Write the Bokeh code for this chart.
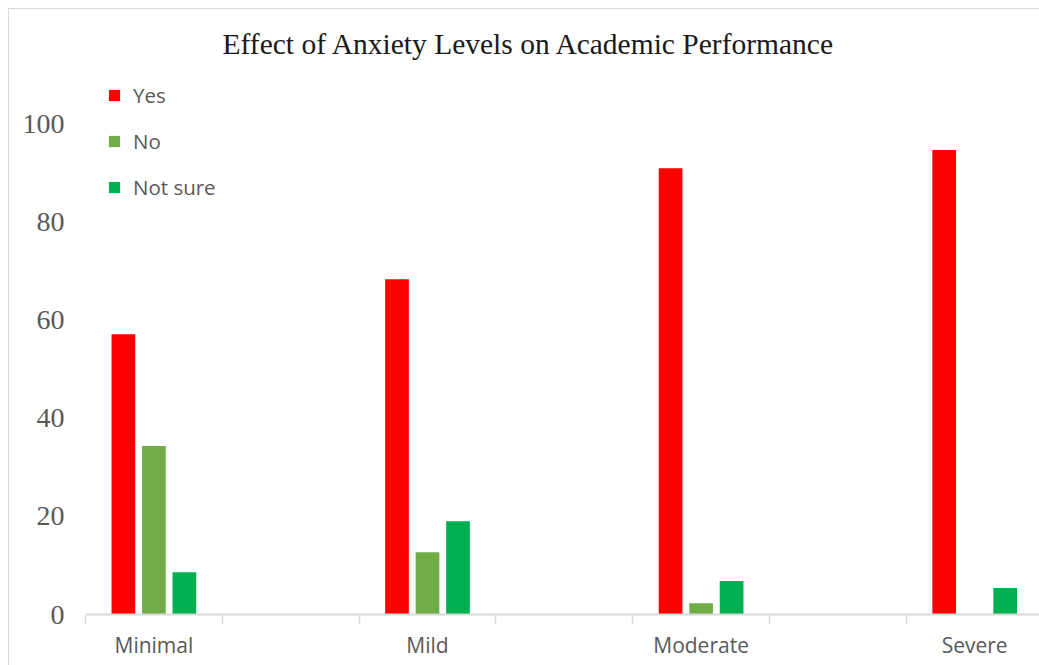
from bokeh.plotting import figure
from bokeh.models import Range1d, FixedTicker, Legend, LegendItem, ColumnDataSource
from bokeh.transform import dodge
from bokeh.embed import file_html
from bokeh.resources import INLINE

# ---- data ----
categories = ["Minimal", "Mild", "Moderate", "Severe"]
series_names = ["Yes", "No", "Not sure"]
yes_vals = [57.1, 68.3, 90.9, 94.6]
no_vals = [34.3, 12.7, 2.3, 0.0]
notsure_vals = [8.6, 19.0, 6.8, 5.4]
y_ticks = [0, 20, 40, 60, 80, 100]
colors = ["#FF0000", "#70AD47", "#00B050"]

# category slots: each category occupies one slot, with an empty slot between
centers = [2 * i + 0.5 for i in range(len(categories))]
boundaries = list(range(0, 2 * len(categories)))

src = ColumnDataSource(dict(x=centers, yes=yes_vals, no=no_vals, ns=notsure_vals))

SLOT_PX = 136.8
FRAME_W = 955
FRAME_H = 555
PX_PER_UNIT = 4.91
p = figure(width=1031, height=657,
           x_range=Range1d(0, FRAME_W / SLOT_PX), y_range=Range1d(0, FRAME_H / PX_PER_UNIT),
           output_backend="svg", toolbar_location=None,
           min_border_left=76, min_border_right=0, min_border_top=50, min_border_bottom=52)
p.margin = (8, 0, 0, 8)
p.styles = {"border-left": "1px solid #d9d9d9", "border-top": "1px solid #d9d9d9"}

p.title.text = "Effect of Anxiety Levels on Academic Performance"
p.title.text_font = "Liberation Serif"
p.title.text_font_size = "29.5px"
p.title.text_font_style = "normal"
p.title.text_color = "#1a1a1a"
p.title.align = "left"
p.title.offset = 137
p.title.standoff = 0

bw = 23.7 / SLOT_PX
off = 30.5 / SLOT_PX
fields = ["yes", "no", "ns"]
renderers = []
for k, (f, c) in enumerate(zip(fields, colors)):
    r = p.vbar(x=dodge("x", (k - 1) * off, range=p.x_range), top=f, width=bw,
               source=src, fill_color=c, line_color=None)
    renderers.append(r)

p.xgrid.visible = False
p.ygrid.visible = False
p.outline_line_color = None

# x axis
xa = p.xaxis[0]
xa.ticker = FixedTicker(ticks=centers, minor_ticks=boundaries)
xa.major_label_overrides = {c: n for c, n in zip(centers, categories)}
xa.axis_line_color = "#d9d9d9"
xa.axis_line_width = 2
xa.major_tick_line_color = None
xa.major_tick_out = 0
xa.major_tick_in = 0
xa.minor_tick_line_color = "#d9d9d9"
xa.minor_tick_line_width = 1.5
xa.minor_tick_out = 10
xa.minor_tick_in = 0
xa.major_label_standoff = 6
xa.major_label_text_font = "Open Sans"
xa.major_label_text_font_size = "21px"
xa.major_label_text_color = "#595959"

# y axis
ya = p.yaxis[0]
ya.ticker = FixedTicker(ticks=y_ticks)
ya.axis_line_color = None
ya.major_tick_line_color = None
ya.minor_tick_line_color = None
ya.major_tick_out = 0
ya.major_label_standoff = 21
ya.major_label_text_font = "Liberation Serif"
ya.major_label_text_font_size = "28px"
ya.major_label_text_color = "#595959"

legend = Legend(items=[LegendItem(label=n, renderers=[r]) for n, r in zip(series_names, renderers)],
                location="top_left", margin=22, padding=0,
                glyph_width=14, glyph_height=14, spacing=18, label_standoff=12,
                label_text_font="Open Sans", label_text_font_size="20.5px",
                label_text_color="#595959", border_line_color=None,
                background_fill_alpha=0)
p.add_layout(legend)

open("out.html", "w").write(file_html(p, INLINE))
